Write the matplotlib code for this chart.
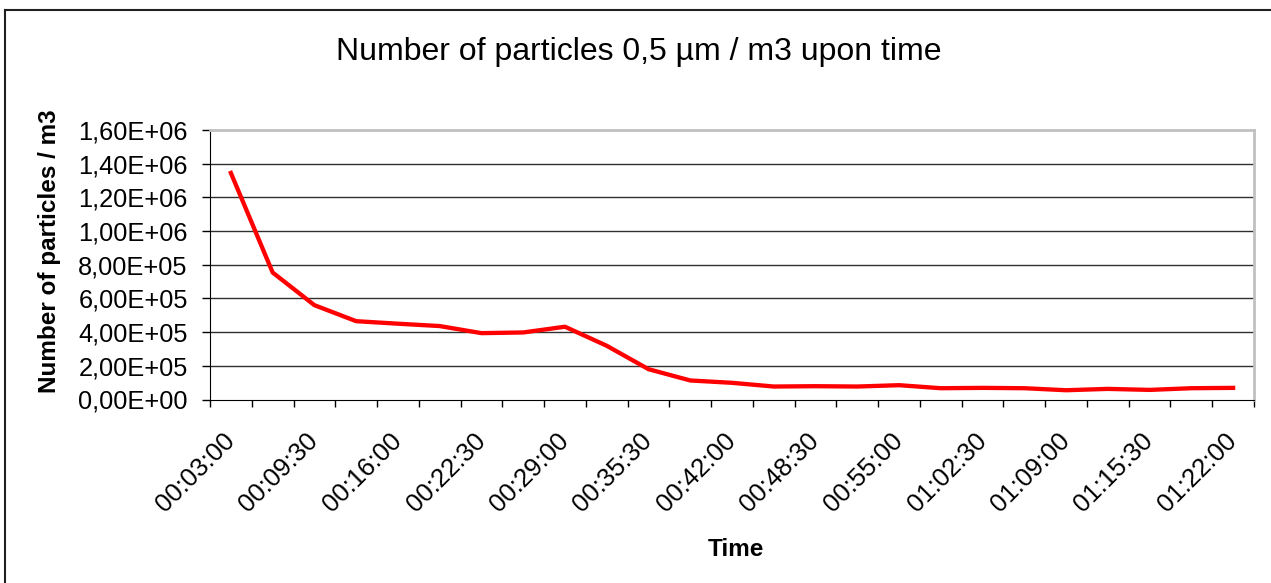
import matplotlib
matplotlib.use('Agg')
import matplotlib.pyplot as plt
import matplotlib.transforms as mtransforms
import numpy as np

plt.rcParams['font.family'] = ['Liberation Sans', 'DejaVu Sans']

# category labels (about every 3:15), only every second one is shown
times = ['00:03:00', '00:06:15', '00:09:30', '00:12:45', '00:16:00', '00:19:15',
         '00:22:30', '00:25:45', '00:29:00', '00:32:15', '00:35:30', '00:38:45',
         '00:42:00', '00:45:15', '00:48:30', '00:51:45', '00:55:00', '00:58:45',
         '01:02:30', '01:05:45', '01:09:00', '01:12:15', '01:15:30', '01:18:45',
         '01:22:00']
particles = [1.345e6, 7.54e5, 5.60e5, 4.65e5, 4.50e5, 4.36e5, 3.94e5, 3.98e5,
             4.32e5, 3.19e5, 1.80e5, 1.13e5, 0.99e5, 0.77e5, 0.79e5, 0.77e5,
             0.85e5, 0.67e5, 0.69e5, 0.67e5, 0.55e5, 0.63e5, 0.57e5, 0.67e5,
             0.69e5]
yticks = [0, 2e5, 4e5, 6e5, 8e5, 1e6, 1.2e6, 1.4e6, 1.6e6]
ytick_labels = ['0,00E+00', '2,00E+05', '4,00E+05', '6,00E+05', '8,00E+05',
                '1,00E+06', '1,20E+06', '1,40E+06', '1,60E+06']

fig = plt.figure(figsize=(12.71, 5.83), dpi=100)
ax = fig.add_axes([210/1271, 1 - 399.5/583, (1254-210)/1271, (399.5-130)/583])

# outer chart frame (only top and left edges are visible)
fig.add_artist(plt.Line2D([4.5/1271, 1], [1 - 10/583, 1 - 10/583], color='#202020', lw=1.5))
fig.add_artist(plt.Line2D([4.5/1271, 4.5/1271], [0, 1 - 10/583], color='#202020', lw=1.5))

x = np.arange(len(times))
ax.plot(x, particles, color='#ff0000', lw=3.1)

ax.set_xlim(-0.5, len(times) - 0.5)
ax.set_ylim(0, 1.6e6)

ax.set_yticks(yticks)
ax.set_yticklabels(ytick_labels, fontsize=18.3)
for y in yticks[1:-1]:
    ax.axhline(y, color='#303030', lw=1, zorder=0)

ax.set_xticks(x[::2])
ax.set_xticklabels(times[::2], rotation=45, ha='right', va='center', fontsize=18.5,
                   rotation_mode='anchor')
shift = mtransforms.ScaledTranslation(-17/100, 0, fig.dpi_scale_trans)
for lab in ax.get_xticklabels():
    lab.set_transform(lab.get_transform() + shift)
ax.set_xticks(np.arange(len(times) + 1) - 0.5, minor=True)
ax.tick_params(axis='x', which='major', length=0, pad=27)
ax.tick_params(axis='x', which='minor', length=5, width=1, direction='out')
ax.tick_params(axis='y', length=6, width=1, direction='out', pad=10)

for s in ['top', 'right']:
    ax.spines[s].set_color('#c0c0c0')
    ax.spines[s].set_linewidth(2)
ax.spines['left'].set_color('black')
ax.spines['bottom'].set_color('black')

ax.set_ylabel('Number of particles / m3', fontsize=17.5, fontweight='bold')
ax.yaxis.set_label_coords(-0.1425, 0.551)
ax.set_xlabel('Time', fontsize=17.5, fontweight='bold')
ax.xaxis.set_label_coords(0.504, -0.5156)
fig.text(639/1271, 1 - 59.8/583, 'Number of particles 0,5 µm / m3 upon time',
         ha='center', va='baseline', fontsize=23)

fig.savefig('out.png', dpi=100)
